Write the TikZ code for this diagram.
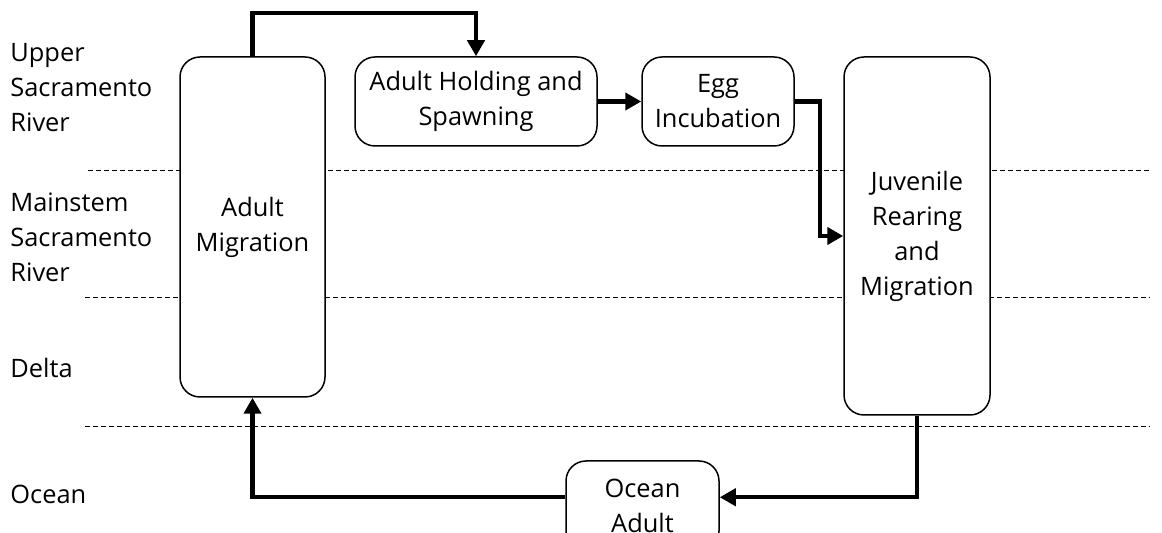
\documentclass[tikz,border=0pt]{standalone}
\usepackage{fontspec}
\setmainfont{Open Sans}
\usetikzlibrary{arrows.meta,calc}
\begin{document}
\begin{tikzpicture}[x=0.5pt,y=-0.5pt,
      every node/.style={font=\fontsize{12.7}{17.5}\selectfont},
      stage/.style={draw,fill=white,rounded corners=10pt,line width=0.75pt,align=center,inner sep=0pt},
      flow/.style={line width=2.1pt,-{Triangle[length=8pt,width=8.5pt]}},
      zone/.style={dash pattern=on 2.5pt off 1.5pt,line width=0.5pt},
      region/.style={anchor=west,align=left,inner sep=0pt}
      ]
      \useasboundingbox (0,0) rectangle (1162,533);
      \clip (0,0) rectangle (1162,533);

      % zone borders
      \draw[zone] (88,171) -- (1150,171);
      \draw[zone] (85,298) -- (1150,298);
      \draw[zone] (85,427) -- (1150,427);

      % zone names
      \node[region] (upper) at (10,88) {Upper\\Sacramento\\River};
      \node[region] (main) at (10,237) {Mainstem\\Sacramento\\River};
      \node[region] (delta) at (10,368) {Delta};
      \node[region] (ocean) at (10,494) {Ocean};

      % life stages
      \node[stage,minimum width=72.5pt,minimum height=170pt] (mig) at (252.5,227) {Adult\\Migration};
      \node[stage,minimum width=121pt,minimum height=44.5pt] (hold) at (476,101.5) {Adult Holding and\\Spawning};
      \node[stage,minimum width=76pt,minimum height=44.5pt] (egg) at (718,101.5) {Egg\\Incubation};
      \node[stage,minimum width=73pt,minimum height=179pt] (juv) at (917,236) {Juvenile\\Rearing\\and\\Migration};
      \node[stage,minimum width=76.5pt,minimum height=45pt] (oa) at (642.5,506) {Ocean\\Adult};

      \coordinate (oain) at ($(oa.north east)+(0,37)$);
      \coordinate (oaout) at ($(oa.north west)+(0,37)$);

      % transitions
      \draw[flow] (mig.north) -- ++(0,-43) -| (hold.north);
      \draw[flow] (hold.east) -- (egg.west);
      \draw[flow] (egg.east) -- ++(25,0) |- (juv.west);
      \draw[flow] (juv.south) |- (oain);
      \draw[flow] (oaout) -| (mig.south);
\end{tikzpicture}
\end{document}
